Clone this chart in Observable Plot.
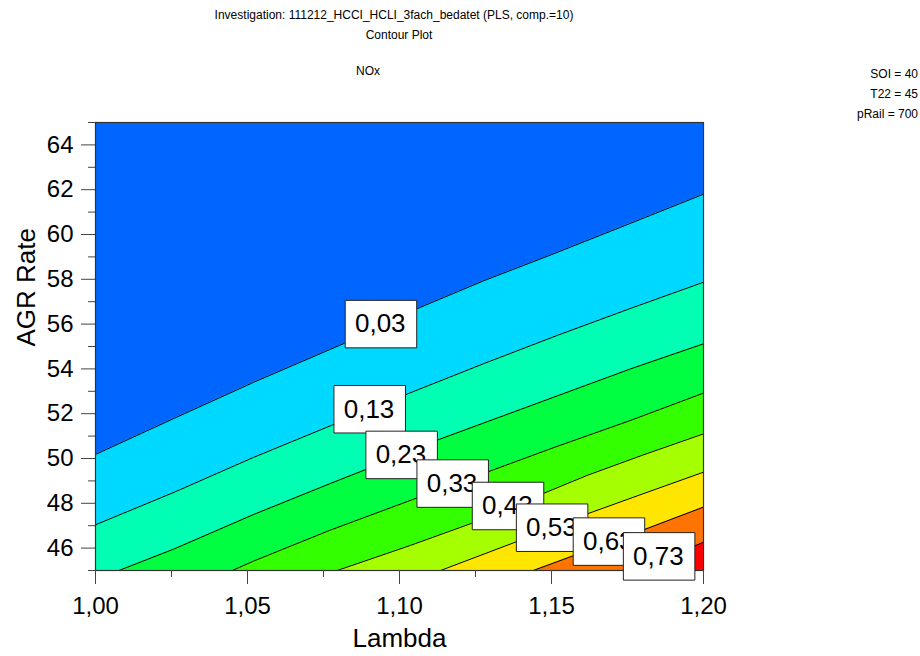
<!DOCTYPE html>
<html>
<head>
<meta charset="utf-8">
<script src="https://cdn.jsdelivr.net/npm/d3@7"></script>
<script src="https://cdn.jsdelivr.net/npm/@observablehq/plot@0.6"></script>
<style>
  body { margin: 0; background: #fff; font-family: "Liberation Sans", Arial, sans-serif; }
  #wrap { position: relative; width: 920px; height: 656px; overflow: hidden; }
  .t { position: absolute; font-size: 12px; line-height: 14px; color: #000; white-space: nowrap; z-index: 2; }
  #chart { position: absolute; left: 0; top: 100px; z-index: 1; }
</style>
</head>
<body>
<div id="wrap">
  <div class="t" style="left:0;width:788px;text-align:center;top:8px">Investigation: 111212_HCCI_HCLI_3fach_bedatet (PLS, comp.=10)</div>
  <div class="t" style="left:0;width:798px;text-align:center;top:28px">Contour Plot</div>
  <div class="t" style="left:0;width:736px;text-align:center;top:64px">NOx</div>
  <div class="t" style="right:2px;text-align:right;top:64px;line-height:20px">SOI = 40<br>T22 = 45<br>pRail = 700</div>
  <div id="chart"></div>
</div>
<script>
// ---- data ----
const xDomain = [1.0, 1.2];
const yDomain = [45, 65];
const xTicksMajor = [1.00, 1.05, 1.10, 1.15, 1.20];
const xTickLabels = ["1,00", "1,05", "1,10", "1,15", "1,20"];
const xTicksMinor = [1.025, 1.075, 1.125, 1.175];
const yTicksMajor = [46, 48, 50, 52, 54, 56, 58, 60, 62, 64];
const yTickLabels = ["46", "48", "50", "52", "54", "56", "58", "60", "62", "64"];
const yTicksMinor = [45, 47, 49, 51, 53, 55, 57, 59, 61, 63, 65];

const levels = [0.03, 0.13, 0.23, 0.33, 0.43, 0.53, 0.63, 0.73];
const levelLabels = ["0,03", "0,13", "0,23", "0,33", "0,43", "0,53", "0,63", "0,73"];
// band colours: below 0.03, 0.03-0.13, ..., above 0.73
const bandColors = ["#0066ff", "#00d9ff", "#00ffb3", "#00ff40", "#33ff00", "#a6ff00", "#ffe600", "#ff7300", "#ff0000"];

// contour lines (Lambda, AGR Rate) per level
const contourLambda = [
  [1.000, 1.026, 1.052, 1.082, 1.106, 1.128, 1.150, 1.176, 1.200],
  [1.000, 1.026, 1.052, 1.078, 1.102, 1.128, 1.152, 1.176, 1.200],
  [1.0077, 1.026, 1.052, 1.077, 1.088, 1.112, 1.140, 1.152, 1.176, 1.200],
  [1.045, 1.052, 1.077, 1.103, 1.124, 1.140, 1.150, 1.176, 1.200],
  [1.0795, 1.1036, 1.124, 1.1475, 1.162, 1.180, 1.200],
  [1.1135, 1.138, 1.162, 1.180, 1.200],
  [1.144, 1.157, 1.180, 1.200],
  [1.178, 1.200]
];
const contourAgr = [
  [50.18, 51.8, 53.4, 55.15, 56.7, 57.95, 59.1, 60.5, 61.8],
  [47.04, 48.5, 50.05, 51.5, 52.85, 54.25, 55.5, 56.7, 57.87],
  [45.0, 45.97, 47.5, 48.87, 49.46, 50.8, 52.2, 52.8, 54.0, 55.12],
  [45.0, 45.42, 46.79, 48.1, 49.15, 49.95, 50.45, 51.7, 52.92],
  [45.0, 46.12, 47.12, 48.45, 49.26, 50.15, 51.1],
  [45.0, 46.26, 47.54, 48.42, 49.39],
  [45.0, 45.65, 46.8, 47.83],
  [45.0, 46.26]
];
// label box centres (Lambda, AGR Rate)
const labelLambda = [1.0939, 1.0902, 1.1007, 1.1175, 1.1357, 1.1502, 1.1689, 1.1854];
const labelAgr = [56.0, 52.2, 50.16, 48.88, 47.88, 46.91, 46.29, 45.63];

// ---- build ----
const lines = levels.map((lv, i) => contourLambda[i].map((x, j) => ({level: lv, lambda: x, agr: contourAgr[i][j]})));
const labels = levels.map((lv, i) => ({text: levelLabels[i], lambda: labelLambda[i], agr: labelAgr[i]}));

const boxSymbol = {
  draw(ctx) {
    ctx.moveTo(-35.75, -23.75);
    ctx.lineTo(35.75, -23.75);
    ctx.lineTo(35.75, 23.75);
    ctx.lineTo(-35.75, 23.75);
    ctx.closePath();
  }
};

const yBottom = yDomain[0];
const fmt = (ticks, labs) => (d) => labs[ticks.indexOf(d)];

const marks = [
  Plot.frame({fill: bandColors[0], stroke: null}),
  ...lines.map((pts, i) => Plot.areaY(pts, {x: "lambda", y1: () => yBottom, y2: "agr", fill: bandColors[i + 1], clip: true})),
  ...lines.map((pts) => Plot.line(pts, {x: "lambda", y: "agr", stroke: "#000", strokeWidth: 1, clip: true})),
  Plot.frame({stroke: "#333", strokeWidth: 1.2}),
  Plot.axisY(yTicksMinor, {tickSize: 7, tickFormat: () => "", stroke: "#444", label: null}),
  Plot.axisY(yTicksMajor, {tickSize: 14, tickPadding: 8, tickFormat: fmt(yTicksMajor, yTickLabels), fontSize: 24, stroke: "#444", label: null}),
  Plot.axisX(xTicksMinor, {tickSize: 7, tickFormat: () => "", stroke: "#444", label: null}),
  Plot.axisX(xTicksMajor, {tickSize: 14, tickPadding: 12, tickFormat: fmt(xTicksMajor, xTickLabels), fontSize: 24, stroke: "#444", label: null}),
  ...labels.flatMap((l) => [
    Plot.dot([l], {x: "lambda", y: "agr", symbol: boxSymbol, fill: "#fff", stroke: "#222", strokeWidth: 1}),
    Plot.text([l], {x: "lambda", y: "agr", text: "text", textAnchor: "start", dx: -26, fontSize: 26, fill: "#000"})
  ]),
  Plot.text(["AGR Rate"], {frameAnchor: "left", dx: -69, rotate: -90, fontSize: 26, fill: "#000"}),
  Plot.text(["Lambda"], {frameAnchor: "bottom", dy: 76, fontSize: 26, fill: "#000"})
];

const chart = Plot.plot({
  width: 920,
  height: 556,
  marginLeft: 95,
  marginRight: 217,
  marginTop: 22,
  marginBottom: 86,
  x: {domain: xDomain},
  y: {domain: yDomain},
  style: {fontFamily: "'Liberation Sans', Arial, sans-serif", background: "transparent", color: "#000", overflow: "visible"},
  marks
});
document.getElementById("chart").appendChild(chart);
</script>
</body>
</html>
